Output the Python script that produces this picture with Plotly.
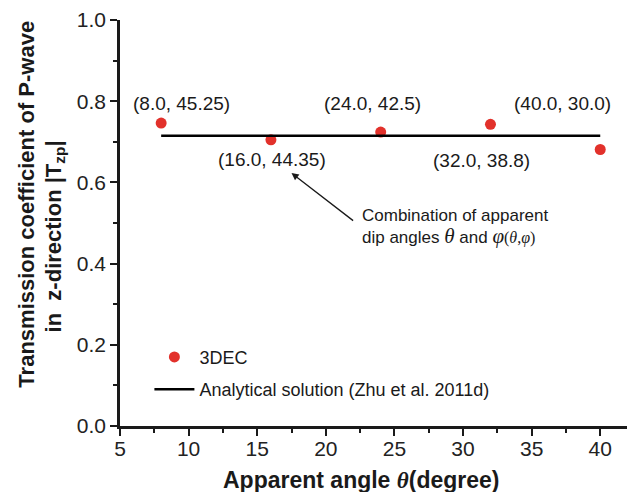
import plotly.graph_objects as go

# 3DEC results: apparent angle theta vs. |T_zp|
theta_3dec = [8.0, 16.0, 24.0, 32.0, 40.0]
tzp_3dec = [0.746, 0.705, 0.724, 0.743, 0.681]
# (theta, phi) combination for each 3DEC run
pair_labels = ["(8.0, 45.25)", "(16.0, 44.35)", "(24.0, 42.5)", "(32.0, 38.8)", "(40.0, 30.0)"]

# Analytical solution (Zhu et al. 2011d)
theta_analytical = [8.0, 40.0]
tzp_analytical = [0.715, 0.715]

x_ticks = [5, 10, 15, 20, 25, 30, 35, 40]
y_ticks = [0.0, 0.2, 0.4, 0.6, 0.8, 1.0]

FONT = "Liberation Sans, Arial, Helvetica, sans-serif"
SERIF = "Liberation Serif, Times New Roman, serif"
INK = "#1a1a1a"
RED = "#e2312b"

fig = go.Figure()

fig.add_trace(go.Scatter(
    x=theta_3dec, y=tzp_3dec, mode="markers", name="3DEC",
    marker=dict(color=RED, size=11, line=dict(width=0)),
    legendgroup="a",
))
fig.add_trace(go.Scatter(
    x=theta_analytical, y=tzp_analytical, mode="lines",
    name="Analytical solution (Zhu et al. 2011d)",
    line=dict(color="black", width=2.5),
    legendgroup="b",
))

# label offsets (pixels) for each (theta, phi) pair
label_dx = [20, 1, -8, -9, -38]
label_dy = [20, -20, 29, -36, 46]
for x, y, txt, dx, dy in zip(theta_3dec, tzp_3dec, pair_labels, label_dx, label_dy):
    fig.add_annotation(
        x=x, y=y, text=txt, showarrow=False,
        xshift=dx, yshift=dy,
        font=dict(family=FONT, size=19, color=INK),
    )

# arrow pointing at the curve, with its explanatory note
fig.add_annotation(
    x=17.5, y=0.623, ax=22.1, ay=0.503, axref="x", ayref="y",
    text="", showarrow=True, arrowhead=2, arrowsize=1.1, arrowwidth=1.3,
    arrowcolor=INK,
)
theta_i = f"<i style=\"font-family:{SERIF};font-size:21px\">θ</i>"
phi_i = f"<i style=\"font-family:{SERIF};font-size:21px\">φ</i>"
fig.add_annotation(
    x=22.5, y=0.547, xanchor="left", yanchor="top", align="left",
    text=("Combination of apparent<br>"
          f"dip angles {theta_i} and {phi_i}"
          f"<span style=\"font-family:{SERIF};font-size:16px\">(<i>θ</i>,<i>φ</i>)</span>"),
    showarrow=False,
    font=dict(family=FONT, size=17, color=INK),
)

# axis titles
fig.add_annotation(
    xref="paper", yref="paper", x=0.477, y=-0.134, xanchor="center", yanchor="middle",
    text=f"<b>Apparent angle <i style=\"font-family:{SERIF}\">θ</i>(degree)</b>",
    showarrow=False, font=dict(family=FONT, size=23, color=INK),
)
fig.add_annotation(
    xref="paper", yref="paper", x=-0.184, y=0.547, xanchor="center", yanchor="middle",
    textangle=-90,
    text="<b>Transmission coefficient of P-wave</b>",
    showarrow=False, font=dict(family=FONT, size=22, color=INK),
)
fig.add_annotation(
    xref="paper", yref="paper", x=-0.129, y=0.466, xanchor="center", yanchor="middle",
    textangle=-90,
    text="<b>in  z-direction |T<sub>zp</sub>|</b>",
    showarrow=False, font=dict(family=FONT, size=22, color=INK),
)

axis_common = dict(
    showgrid=False, zeroline=False, showline=True, linecolor=INK, linewidth=2.5,
    ticks="outside", ticklen=7, tickwidth=2, tickcolor=INK,
    tickfont=dict(family=FONT, size=21, color="#222"),
)

fig.update_layout(
    width=627, height=492,
    margin=dict(l=120, r=0, t=20, b=66),
    paper_bgcolor="white", plot_bgcolor="white",
    xaxis=dict(range=[5, 41.95], tickvals=x_ticks, ticktext=[str(v) for v in x_ticks],
               ticklabelstandoff=-5,
               minor=dict(ticks="outside", ticklen=4, tickwidth=2, tickcolor=INK, dtick=2.5, tick0=5),
               **axis_common),
    yaxis=dict(range=[0, 1], tickvals=y_ticks, ticktext=[f"{v:.1f}" for v in y_ticks],
               minor=dict(ticks="outside", ticklen=4, tickwidth=2, tickcolor=INK, dtick=0.1, tick0=0),
               **axis_common),
    showlegend=True,
    legend=dict(x=0.058, y=0.215, xanchor="left", yanchor="top",
                bgcolor="rgba(0,0,0,0)", traceorder="grouped", tracegroupgap=6,
                font=dict(family=FONT, size=18, color=INK), itemwidth=40),
)

fig.write_html("out.html")
